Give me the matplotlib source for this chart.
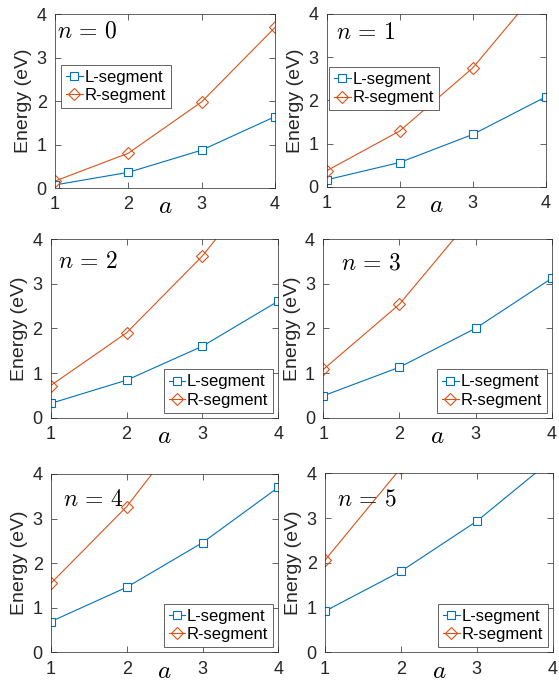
import matplotlib

matplotlib.use("Agg")
import matplotlib.pyplot as plt

a_vals = [1, 2, 3, 4]
n_vals = [0, 1, 2, 3, 4, 5]

# energies (eV), one row per n
l_segment = [
    [0.07, 0.36, 0.87, 1.64],
    [0.16, 0.56, 1.21, 2.08],
    [0.32, 0.84, 1.60, 2.61],
    [0.49, 1.13, 2.00, 3.12],
    [0.69, 1.46, 2.46, 3.70],
    [0.92, 1.81, 2.93, 4.32],
]
r_segment = [
    [0.16, 0.80, 1.98, 3.69],
    [0.37, 1.29, 2.75, 4.77],
    [0.72, 1.90, 3.62, 5.75],
    [1.08, 2.54, 4.58, 6.70],
    [1.55, 3.27, 5.47, 7.60],
    [2.06, 4.12, 6.30, 8.50],
]

BLUE = "#0072BD"
ORANGE = "#D95319"
INK = "#262626"

W, H = 559, 687
# axes rectangles in pixels: left, top, right, bottom
rects = [
    (55, 14, 275, 188),
    (326.7, 14, 545.7, 186.7),
    (50.7, 239, 278.3, 417.7),
    (323.3, 239, 551.7, 417.7),
    (51, 474, 278.3, 652.3),
    (325, 473.3, 552.7, 652.3),
]
label_pos = [(1.03, 3.6), (1.13, 3.56), (1.09, 3.49), (1.23, 3.46), (1.16, 3.42), (1.16, 3.42)]

plt.rcParams["font.family"] = ["Liberation Sans", "DejaVu Sans"]
plt.rcParams["mathtext.fontset"] = "cm"

fig = plt.figure(figsize=(W / 100, H / 100), dpi=100)

for i, n in enumerate(n_vals):
    left, top, right, bottom = rects[i]
    ax = fig.add_axes([left / W, (H - bottom) / H, (right - left) / W, (bottom - top) / H])
    ax.plot(a_vals, l_segment[i], color=BLUE, lw=0.8, marker="s", ms=5.5,
            mfc="white", mec=BLUE, mew=0.8, label="L-segment")
    ax.plot(a_vals, r_segment[i], color=ORANGE, lw=0.8, marker="D", ms=6,
            mfc="none", mec=ORANGE, mew=0.8, label="R-segment")
    ax.set_xlim(1, 4)
    ax.set_ylim(0, 4)
    ax.set_xticks(a_vals)
    ax.set_yticks([0, 1, 2, 3, 4])
    ax.tick_params(direction="in", top=True, right=True, length=4, width=0.5,
                   colors=INK, labelsize=13, pad=6)
    for sp in ax.spines.values():
        sp.set_linewidth(0.5)
        sp.set_color(INK)
    ax.set_ylabel("Energy (eV)", fontsize=14, color=INK, labelpad=3)
    ax.set_xlabel("$a$", fontsize=18, color="black")
    ax.xaxis.set_label_coords(0.5, -0.035)
    tx, ty = label_pos[i]
    ax.text(tx, ty, rf"$n\,=\,{n}$", fontsize=17, ha="left", va="center")
    leg_kw = dict(fontsize=12, handlelength=1.0, handletextpad=0.1, borderpad=0.3,
                  labelspacing=0.2, fancybox=False, framealpha=1, edgecolor=INK)
    if i < 2:
        anchor = (0.027, 0.707) if i == 0 else (0.01, 0.693)
        leg = ax.legend(loc="upper left", bbox_to_anchor=anchor, borderaxespad=0, **leg_kw)
    else:
        leg = ax.legend(loc="lower right", borderaxespad=0.3, **leg_kw)
    leg.get_frame().set_linewidth(0.5)

fig.savefig("out.png", dpi=100)
